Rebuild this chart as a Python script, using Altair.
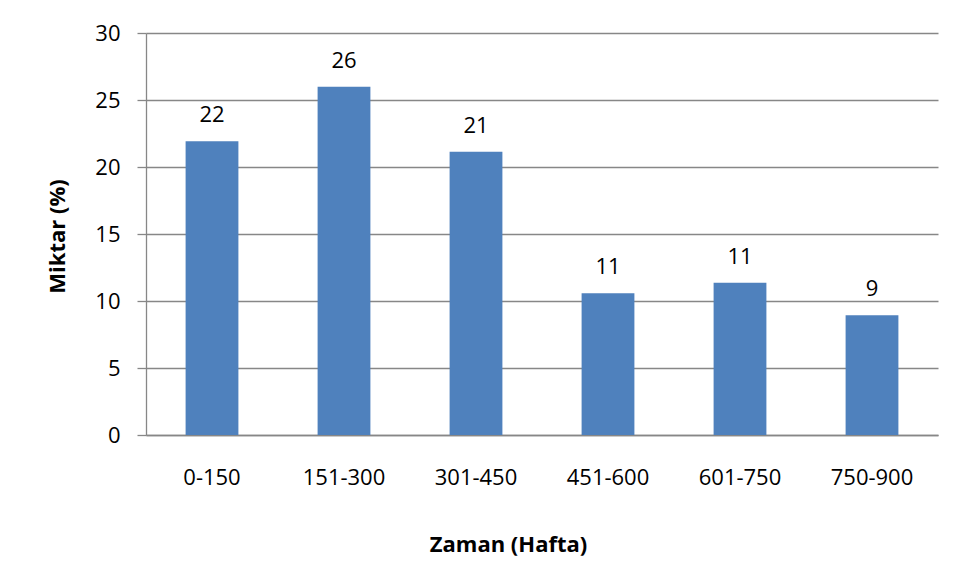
import altair as alt
import pandas as pd

categories = ["0-150", "151-300", "301-450", "451-600", "601-750", "750-900"]
values = [21.92, 25.98, 21.13, 10.57, 11.36, 8.93]
labels = ["22", "26", "21", "11", "11", "9"]

df = pd.DataFrame({"cat": categories, "val": values, "lab": labels})

FONT = "Open Sans"
GRID = "#878787"

base = alt.Chart(df)

x_enc = alt.X(
    "cat:N",
    sort=categories,
    scale=alt.Scale(paddingInner=0.6, paddingOuter=0.3),
    axis=alt.Axis(
        title="Zaman (Hafta)",
        labelAngle=0,
        labelFont=FONT,
        labelFontSize=22,
        labelColor="black",
        labelPadding=32,
        ticks=False,
        tickSize=0,
        grid=False,
        domainColor=GRID,
        domainWidth=1.3,
        titleFont=FONT,
        titleFontSize=22,
        titleFontWeight="bold",
        titleColor="black",
        titleBaseline="alphabetic",
        titleAlign="center",
        titleX=362,
        titleY=116,
    ),
)

y_enc = alt.Y(
    "val:Q",
    scale=alt.Scale(domain=[0, 30]),
    axis=alt.Axis(
        title="Miktar (%)",
        values=[0, 5, 10, 15, 20, 25, 30],
        labelFont=FONT,
        labelFontSize=22,
        labelColor="black",
        labelPadding=17,
        tickSize=9,
        tickColor=GRID,
        tickWidth=1.3,
        domainColor=GRID,
        domainWidth=1.3,
        gridColor=GRID,
        gridWidth=1.3,
        titleFont=FONT,
        titleFontSize=22,
        titleFontWeight="bold",
        titleColor="black",
        titleAngle=270,
        titleBaseline="alphabetic",
        titleAlign="center",
        titleX=-82,
        titleY=203,
    ),
)

bars = base.mark_bar(color="#4F81BD").encode(x=x_enc, y=y_enc)

text = base.mark_text(
    font=FONT, fontSize=22, color="black", baseline="alphabetic", dy=-19
).encode(x=x_enc, y=y_enc, text="lab:N")

chart = (
    alt.layer(bars, text)
    .properties(
        width=792,
        height=402,
        autosize=alt.AutoSizeParams(type="none"),
        padding={"left": 138, "top": 25, "right": 13, "bottom": 130},
        view=alt.ViewBackground(strokeWidth=0, strokeOpacity=0),
    )
    .configure_view(strokeWidth=0, strokeOpacity=0)
    .configure_axisX(grid=False)
    .configure(background="white")
)

chart.save("out.html", embed_options={"renderer": "svg", "actions": False})
